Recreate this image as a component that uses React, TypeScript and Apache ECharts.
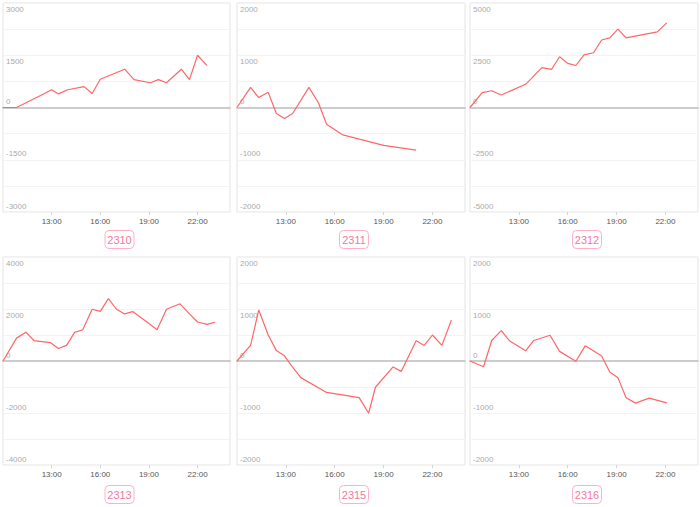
import React, { useEffect, useRef } from "react";
import * as echarts from "echarts";

const panelNames = ["2310", "2311", "2312", "2313", "2315", "2316"];
const axisMax = [3000, 2000, 5000, 4000, 2000, 2000];
const axisStep = [750, 500, 1250, 1000, 500, 500];
const hourTicks = ["13:00", "16:00", "19:00", "22:00"];

const times2310 = ["10:00","10:50","12:30","13:00","13:25","14:00","15:00","15:30","16:00","17:30","18:05","19:05","19:35","20:05","21:00","21:30","22:00","22:35"];
const values2310 = [0,0,390,510,390,510,600,400,810,1100,800,710,800,710,1100,800,1500,1200];

const times2311 = ["10:00","10:50","11:20","11:55","12:25","12:55","13:25","14:25","15:00","15:30","16:30","19:00","21:00"];
const values2311 = [0,385,190,290,-115,-210,-115,385,90,-320,-525,-725,-815];

const times2312 = ["10:00","10:45","11:20","11:55","13:25","14:25","15:00","15:30","16:00","16:30","17:00","17:35","18:05","18:35","19:05","19:35","21:30","22:05"];
const values2312 = [0,710,800,600,1110,1910,1820,2430,2110,2010,2520,2620,3230,3330,3750,3330,3620,4050];

const times2313 = ["10:00","10:50","11:25","11:55","12:55","13:25","13:55","14:25","14:55","15:30","16:00","16:30","17:00","17:30","18:00","19:00","19:30","20:05","20:55","21:30","22:00","22:35","23:05"];
const values2313 = [0,880,1110,780,710,480,600,1100,1200,1990,1910,2400,1990,1810,1900,1440,1200,1990,2200,1810,1500,1410,1490];

const times2315 = ["10:00","10:50","11:20","11:55","12:25","12:55","13:25","13:55","15:30","17:30","18:05","18:30","19:35","20:05","21:00","21:30","22:00","22:35","23:10"];
const values2315 = [0,300,980,500,200,100,-120,-320,-605,-705,-1005,-505,-115,-200,390,300,500,300,790];

const times2316 = ["10:00","10:50","11:20","11:55","12:25","13:25","13:55","14:55","15:30","16:30","17:05","18:05","18:35","19:05","19:35","20:10","21:00","22:05"];
const values2316 = [0,-110,395,585,390,195,395,495,185,-5,295,95,-210,-320,-705,-810,-715,-805];

const allTimes = [times2310, times2311, times2312, times2313, times2315, times2316];
const allValues = [values2310, values2311, values2312, values2313, values2315, values2316];

const toHours = (t: string) => {
  const [h, m] = t.split(":").map(Number);
  return h + m / 60 - 10;
};

const gridBoxes = [
  { left: 3, top: 3, width: 227, height: 209 },
  { left: 237, top: 3, width: 228, height: 209 },
  { left: 470, top: 3, width: 228, height: 209 },
  { left: 3, top: 257, width: 227, height: 208 },
  { left: 237, top: 257, width: 228, height: 208 },
  { left: 470, top: 257, width: 228, height: 208 },
];
const titleTops = [230, 230, 230, 485, 485, 485];

export default function App() {
  const ref = useRef<HTMLDivElement>(null);
  useEffect(() => {
    if (!ref.current) return;
    const chart = echarts.init(ref.current, null, { renderer: "svg" });
    const grids: any[] = [];
    const xAxes: any[] = [];
    const zeroAxes: any[] = [];
    const yAxes: any[] = [];
    const series: any[] = [];
    const titles: any[] = [];
    panelNames.forEach((name, i) => {
      const g = gridBoxes[i];
      grids.push({ ...g, show: true, borderColor: "#e3e3e3", borderWidth: 1, containLabel: false });
      xAxes.push({
        type: "value",
        gridIndex: i,
        position: "bottom",
        min: 0,
        max: 14,
        interval: 3,
        axisLine: { show: false, onZero: false },
        axisTick: { show: true, length: 3, lineStyle: { color: "#d5d5d5" } },
        splitLine: { show: false },
        axisLabel: {
          fontSize: 8,
          color: "#555",
          margin: 5,
          showMinLabel: false,
          showMaxLabel: false,
          formatter: (v: number) => {
            const label = `${v + 10}:00`;
            return hourTicks.includes(label) ? label : "";
          },
        },
      });
      zeroAxes.push({
        type: "value",
        gridIndex: i,
        position: "top",
        min: 0,
        max: 14,
        interval: 3,
        axisLine: { show: true, onZero: true, lineStyle: { color: "#cccccc", width: 2 } },
        axisTick: { show: false },
        axisLabel: { show: false },
        splitLine: { show: false },
      });
      const mx = axisMax[i];
      const st = axisStep[i];
      yAxes.push({
        type: "value",
        gridIndex: i,
        position: "left",
        min: -mx,
        max: mx,
        interval: st,
        axisLine: { show: false },
        axisTick: { show: false },
        splitLine: { show: true, lineStyle: { color: "#f3f3f3", width: 1 } },
        axisLabel: {
          inside: true,
          margin: 3,
          fontSize: 8,
          color: "#aaa",
          verticalAlign: "top",
          padding: [2, 0, 0, 0],
          formatter: (v: number) => (v > 0 && v % (2 * st) === 0 ? String(v) : ""),
        },
      });
      yAxes.push({
        type: "value",
        gridIndex: i,
        position: "left",
        offset: 0,
        min: -mx,
        max: mx,
        interval: st,
        axisLine: { show: false },
        axisTick: { show: false },
        splitLine: { show: false },
        axisLabel: {
          inside: true,
          margin: 3,
          fontSize: 8,
          color: "#aaa",
          verticalAlign: "bottom",
          padding: [0, 0, 2, 0],
          formatter: (v: number) => (v <= 0 && v % (2 * st) === 0 ? String(v === 0 ? 0 : v) : ""),
        },
      });
      series.push({
        type: "line",
        xAxisIndex: i,
        yAxisIndex: 2 * i,
        z: 3,
        data: allTimes[i].map((t, k) => [toHours(t), allValues[i][k]]),
        showSymbol: false,
        symbol: "none",
        lineStyle: { color: "#ff6666", width: 1.2 },
        itemStyle: { color: "#ff6666" },
      });
      titles.push({
        text: name,
        left: g.left + g.width / 2,
        top: titleTops[i],
        textAlign: "center",
        borderColor: "#ffb0c6",
        borderWidth: 1,
        borderRadius: 4,
        padding: [4, 3],
        textStyle: { fontSize: 11, color: "#f2799d", fontWeight: "normal" },
      });
    });
    chart.setOption({
      animation: false,
      backgroundColor: "#ffffff",
      title: titles,
      grid: grids,
      xAxis: [...xAxes, ...zeroAxes],
      yAxis: yAxes,
      series,
    });
    return () => chart.dispose();
  }, []);
  return (
    <div
      ref={ref}
      style={{ position: "absolute", left: 0, top: 0, width: 700, height: 507 }}
    />
  );
}
